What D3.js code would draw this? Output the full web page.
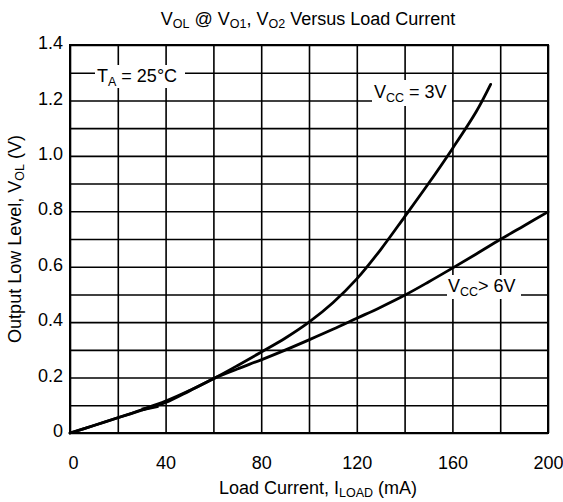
<!DOCTYPE html>
<html><head><meta charset="utf-8">
<script src="https://cdn.jsdelivr.net/npm/d3@7"></script>
<style>
html,body{margin:0;padding:0;background:#fff;}
text{font-family:"Liberation Sans",Arial,sans-serif;fill:#000;}
</style></head>
<body><svg id="c" width="563" height="502"></svg>
<script>
// Data
const currentV3 = [0,10,20,30,40,50,60,70,80,90,100,110,120,130,140,150,160,170,176];
const vol3V = [0,0.027,0.055,0.084,0.115,0.153,0.196,0.243,0.292,0.342,0.400,0.470,0.556,0.662,0.780,0.900,1.026,1.160,1.258];
const currentV6 = [0,10,20,30,40,50,60,70,80,90,100,110,120,130,140,150,160,170,180,190,200];
const vol6V = [0,0.027,0.055,0.082,0.110,0.152,0.196,0.231,0.264,0.299,0.336,0.374,0.414,0.454,0.497,0.545,0.595,0.646,0.698,0.748,0.798];
const stubX = [30,37];
const stubY = [0.085,0.097];
const xTickLabels = [0,40,80,120,160,200];
const yTickLabels = [0,0.2,0.4,0.6,0.8,1.0,1.2,1.4];
const xGrid = d3.range(0,201,20);
const yGrid = d3.range(0,15).map(i=>+(i*0.1).toFixed(1));

const svg = d3.select("#c");
const L=70,R=548,T=45,B=433;
const x = d3.scaleLinear().domain([0,200]).range([L,R]);
const y = d3.scaleLinear().domain([0,1.4]).range([B,T]);
const FS=18, SFS=12.5;

// grid
const g = svg.append("g");
g.append("g").attr("transform",`translate(0,${B})`)
 .call(d3.axisBottom(x).tickValues(xGrid).tickSize(-(B-T)).tickFormat(""))
 .call(a=>{a.select(".domain").remove();a.selectAll("line").attr("stroke","#000").attr("stroke-width",1.6);});
g.append("g").attr("transform",`translate(${L},0)`)
 .call(d3.axisLeft(y).tickValues(yGrid).tickSize(-(R-L)).tickFormat(""))
 .call(a=>{a.select(".domain").remove();a.selectAll("line").attr("stroke","#000").attr("stroke-width",1.6);});
svg.append("rect").attr("x",L).attr("y",T).attr("width",R-L).attr("height",B-T)
 .attr("fill","none").attr("stroke","#000").attr("stroke-width",2);

// tick labels
svg.append("g").attr("transform",`translate(0,${B})`)
 .call(d3.axisBottom(x).tickValues(xTickLabels).tickSize(0).tickPadding(23).tickFormat(d=>d))
 .call(a=>{a.select(".domain").remove();a.selectAll("text").attr("font-size",FS).attr("font-family","Liberation Sans, Arial").attr("dx",d=>d===0?3:0);});
svg.append("g").attr("transform",`translate(${L},0)`)
 .call(d3.axisLeft(y).tickValues(yTickLabels).tickSize(0).tickPadding(7).tickFormat(d=>d===0?"0":d3.format(".1f")(d)))
 .call(a=>{a.select(".domain").remove();a.selectAll("text").attr("font-size",FS).attr("font-family","Liberation Sans, Arial").attr("dy","0.2em");});

function rich(t, parts, sub){
  parts.forEach(p=>{
    const s=t.append("tspan").text(p[0]);
    if(p[1]==="sub") s.attr("font-size",SFS).attr("dy",sub);
    if(p[1]==="back") s.attr("dy",-sub);
  });
}
// label boxes
function label(xp, yp, parts, w, h, bx, by){
  svg.append("rect").attr("x",bx).attr("y",by).attr("width",w).attr("height",h).attr("fill","#fff");
  const t = svg.append("text").attr("x",xp).attr("y",yp).attr("font-size",FS);
  rich(t, parts, 4);
}
label(97,82,[["T"],["A","sub"],[" = 25°C","back"]],90,23,95,65);
label(374,98,[["V"],["CC","sub"],[" = 3V","back"]],80,26,372,80);
label(448,292,[["V"],["CC","sub"],["> 6V","back"]],74,24,447,275);

// curves
const line = d3.line().x(d=>x(d[0])).y(d=>y(d[1])).curve(d3.curveCatmullRom.alpha(0.5));
svg.append("path").datum(currentV3.map((c,i)=>[c,vol3V[i]])).attr("d",line)
 .attr("fill","none").attr("stroke","#000").attr("stroke-width",2.8).attr("stroke-linecap","round");
svg.append("path").datum(currentV6.map((c,i)=>[c,vol6V[i]])).attr("d",line)
 .attr("fill","none").attr("stroke","#000").attr("stroke-width",2.8).attr("stroke-linecap","round");
svg.append("path").datum(stubX.map((c,i)=>[c,stubY[i]])).attr("d",d3.line().x(d=>x(d[0])).y(d=>y(d[1])))
 .attr("fill","none").attr("stroke","#000").attr("stroke-width",3.5);

// title
const tt = svg.append("text").attr("x",308).attr("y",25).attr("text-anchor","middle").attr("font-size",FS);
rich(tt,[["V"],["OL","sub"],[" @ V","back"],["O1","sub"],[", V","back"],["O2","sub"],[" Versus Load Current","back"]],3);
// x label
const xl = svg.append("text").attr("x",318).attr("y",494).attr("text-anchor","middle").attr("font-size",FS);
rich(xl,[["Load Current, I"],["LOAD","sub"],[" (mA)","back"]],3);
// y label
const yl = svg.append("text").attr("transform","translate(21,239) rotate(-90)").attr("text-anchor","middle").attr("font-size",FS);
rich(yl,[["Output Low Level, V"],["OL","sub"],[" (V)","back"]],3);
</script></body></html>
